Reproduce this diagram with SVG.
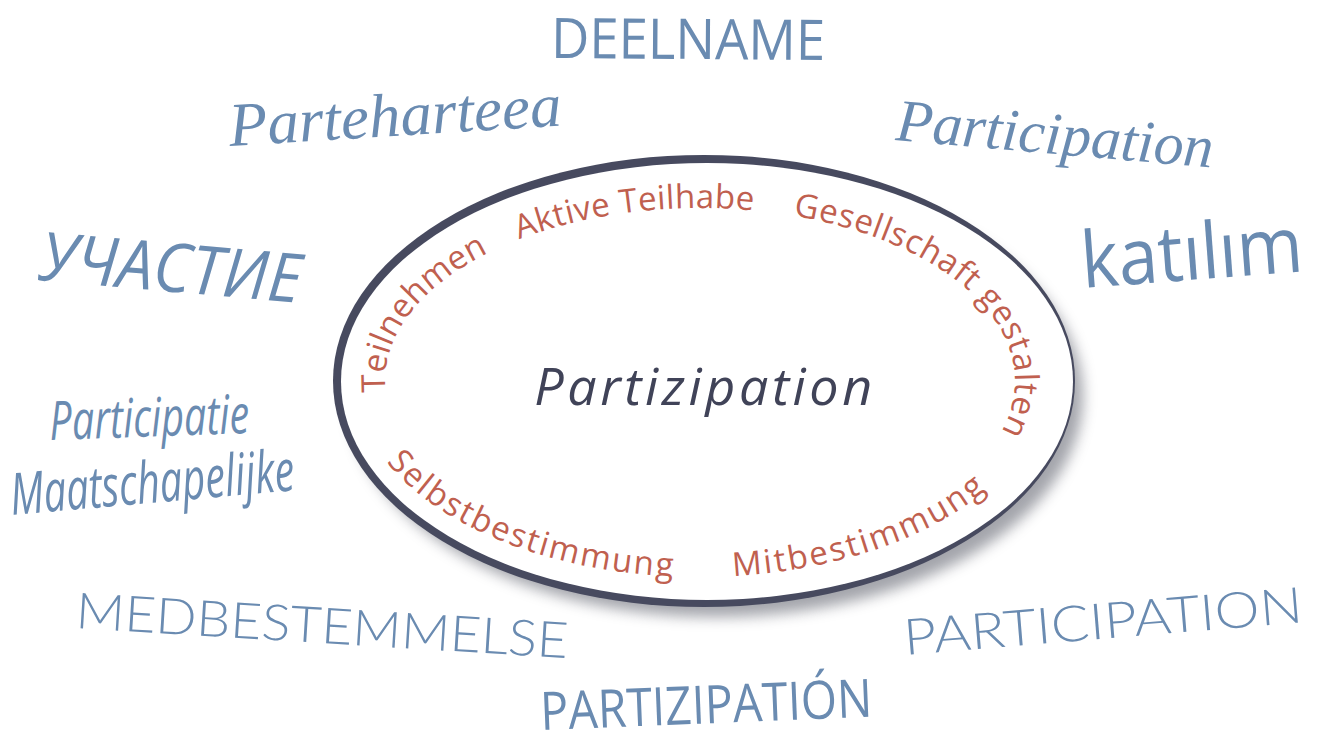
<svg xmlns="http://www.w3.org/2000/svg" width="1325" height="742" viewBox="0 0 1325 742">
<style>
.blue{fill:#6a8bb1}
.red{fill:#c0604f;font-family:"Open Sans","Noto Sans",sans-serif;font-size:33px}
.script{font-family:"Liberation Serif",serif;font-style:italic}
.hand{font-family:"Open Sans","Noto Sans",sans-serif}
.thin{font-family:Lato,"Open Sans",sans-serif;font-weight:300}
</style>
<defs>
<filter id="shadow" x="-10%" y="-10%" width="130%" height="130%">
<feGaussianBlur stdDeviation="7"/>
</filter>
<path id="ringTop" d="M 700,554 A 315,173 0 0 1 385,381 A 315,173 0 0 1 700,208 A 315,173 0 0 1 1015,381 A 315,173 0 0 1 700,554"/>
<path id="ringBottom" d="M 356,381 A 344,196 0 0 0 700,577 A 344,196 0 0 0 1044,381"/>
</defs>

<g id="center-node">
<ellipse cx="716" cy="396" rx="367" ry="221" fill="#7d7f88" opacity="0.7" filter="url(#shadow)"/>
<ellipse cx="704" cy="381" rx="371" ry="226" fill="#474a5f"/>
<ellipse cx="707" cy="381.5" rx="366" ry="218.5" fill="#ffffff"/>
<text x="705" y="405" text-anchor="middle" font-family="Open Sans, Noto Sans, sans-serif" font-style="italic" font-size="52" letter-spacing="3.6" fill="#404358">Partizipation</text>
</g>

<g id="inner-terms">
<text class="red" letter-spacing="0.3"><textPath href="#ringTop" startOffset="380">Teilnehmen</textPath></text>
<text class="red" letter-spacing="0.4"><textPath href="#ringTop" startOffset="598">Aktive Teilhabe</textPath></text>
<text class="red" letter-spacing="0.7"><textPath href="#ringTop" startOffset="876">Gesellschaft gestalten</textPath></text>
<text class="red" letter-spacing="2"><textPath href="#ringBottom" startOffset="88">Selbstbestimmung</textPath></text>
<text class="red" letter-spacing="2.3"><textPath href="#ringBottom" startOffset="465">Mitbestimmung</textPath></text>
</g>

<g id="word-deelname">
<text class="blue hand" transform="translate(551,58) rotate(0.4)" font-size="56" textLength="274" lengthAdjust="spacingAndGlyphs">DEELNAME</text>
</g>
<g id="word-parteharteea">
<text class="blue script" transform="translate(230,146) rotate(-3.5)" font-size="62" textLength="333" lengthAdjust="spacingAndGlyphs">Parteharteea</text>
</g>
<g id="word-participation-script">
<text class="blue script" transform="translate(895,140) rotate(5)" font-size="60" textLength="318" lengthAdjust="spacingAndGlyphs">Participation</text>
</g>
<g id="word-uchastie">
<text class="blue hand" font-style="italic" transform="translate(38,280) rotate(5)" font-size="68" textLength="262" lengthAdjust="spacingAndGlyphs">УЧАСТИЕ</text>
</g>
<g id="word-katilim">
<text class="blue hand" transform="translate(1083,288) rotate(-4.3)" font-size="78" textLength="222" lengthAdjust="spacingAndGlyphs">katılım</text>
</g>
<g id="word-participatie">
<text class="blue hand" font-style="italic" transform="translate(50,440) rotate(-2)" font-size="54" textLength="200" lengthAdjust="spacingAndGlyphs">Participatie</text>
<text class="blue hand" font-style="italic" transform="translate(12,515) rotate(-5)" font-size="58" textLength="285" lengthAdjust="spacingAndGlyphs">Maatschapelijke</text>
</g>
<g id="word-medbestemmelse">
<text class="blue thin" transform="translate(75,628) rotate(3.5)" font-size="50" textLength="493" lengthAdjust="spacingAndGlyphs">MEDBESTEMMELSE</text>
</g>
<g id="word-participation-caps">
<text class="blue thin" transform="translate(905,655) rotate(-4.7)" font-size="50" textLength="400" lengthAdjust="spacingAndGlyphs">PARTICIPATION</text>
</g>
<g id="word-partizipation">
<text class="blue hand" transform="translate(541,730) rotate(-2.3)" font-size="53" textLength="332" lengthAdjust="spacingAndGlyphs">PARTIZIPATIÓN</text>
</g>
</svg>
